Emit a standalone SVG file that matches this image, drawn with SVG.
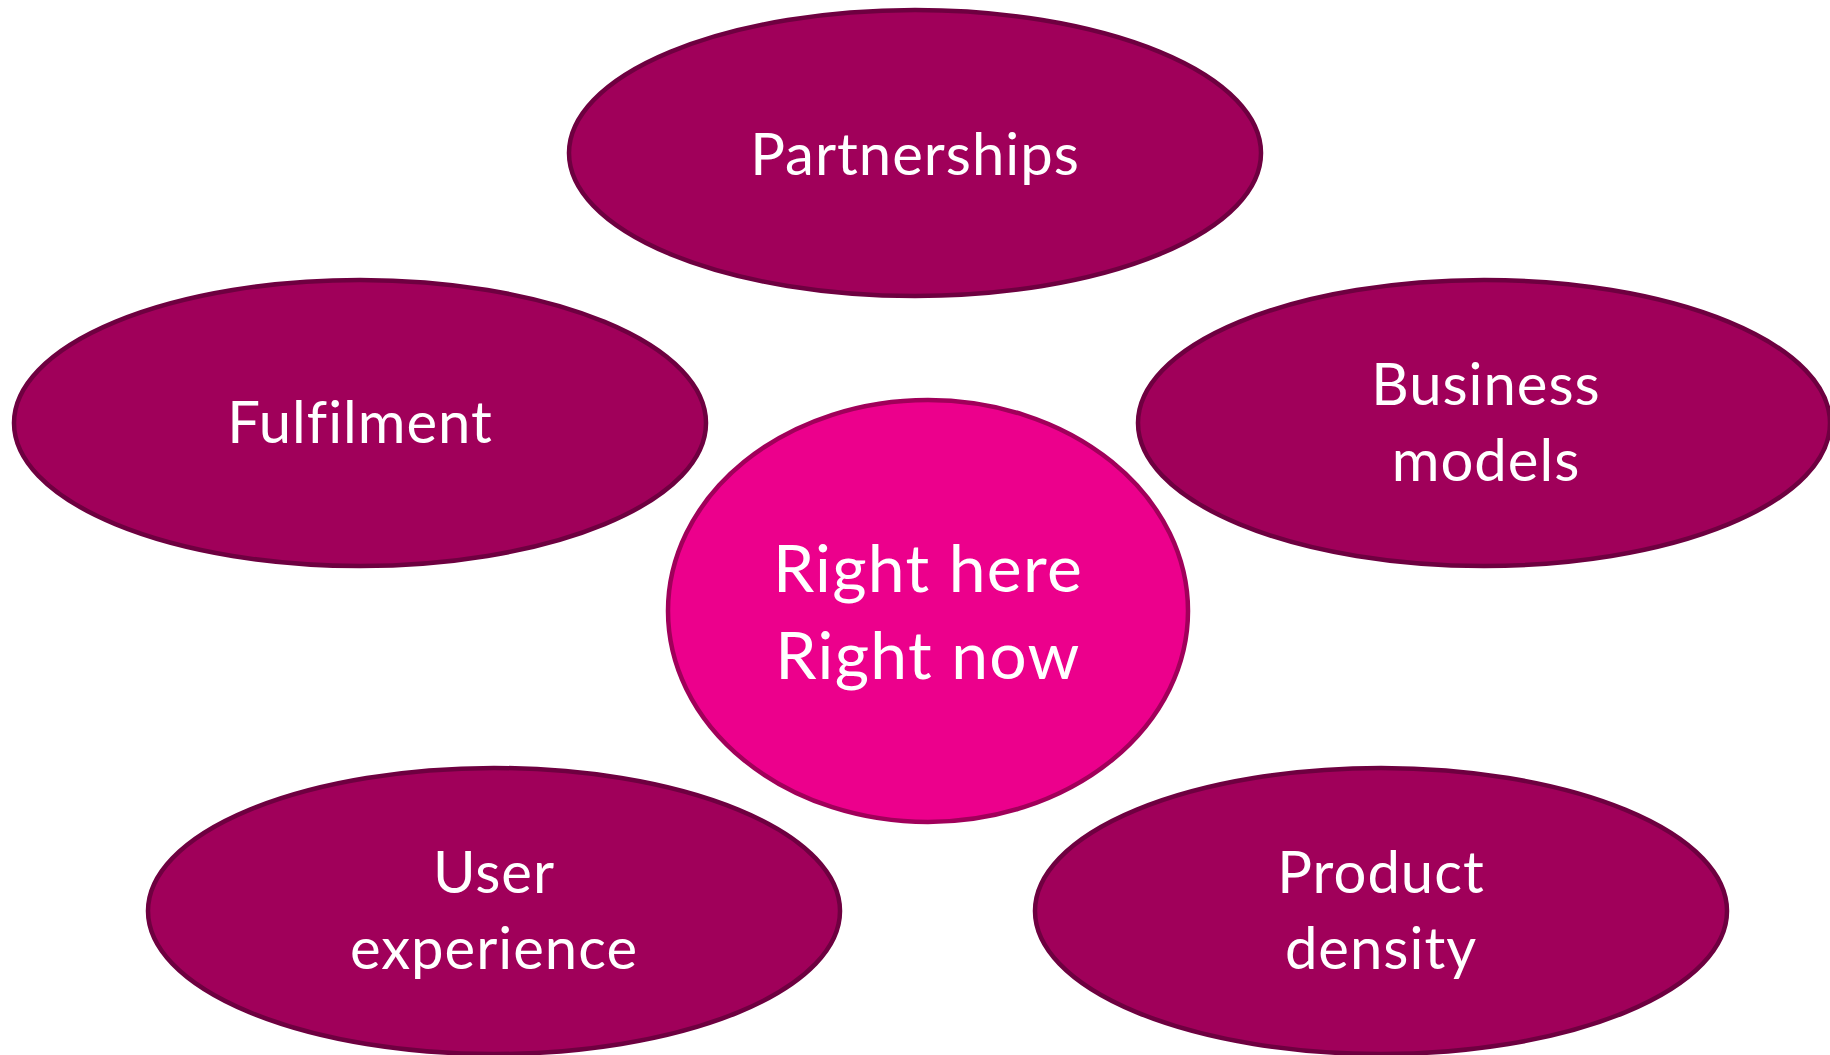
<svg xmlns="http://www.w3.org/2000/svg" width="1830" height="1055" viewBox="0 0 1830 1055">
<style>
.outer{fill:#A0005A;stroke:#6E0040;stroke-width:4.5}
.center{fill:#EC008C;stroke:#A0005A;stroke-width:4.5}
.lbl{font-family:Lato,"Open Sans","Liberation Sans",sans-serif;fill:#FFFFFF;text-anchor:middle;font-size:58px;letter-spacing:1px;font-variant-ligatures:none}
.big{font-size:66px;letter-spacing:1.3px}
</style>
<rect width="1830" height="1055" fill="#FFFFFF"/>
<g id="connectors"/>
<g id="partnerships">
<ellipse class="outer" cx="915" cy="153" rx="346" ry="143"/>
<text class="lbl" x="915" y="175">Partnerships</text>
</g>
<g id="fulfilment">
<ellipse class="outer" cx="360" cy="423" rx="346" ry="143"/>
<text class="lbl" x="360" y="443">Fulfilment</text>
</g>
<g id="business-models">
<ellipse class="outer" cx="1484" cy="423" rx="346" ry="143"/>
<text class="lbl" x="1486" y="405">Business</text>
<text class="lbl" x="1486" y="481">models</text>
</g>
<g id="user-experience">
<ellipse class="outer" cx="494" cy="911" rx="346" ry="143"/>
<text class="lbl" x="494" y="893">User</text>
<text class="lbl" x="494" y="969">experience</text>
</g>
<g id="product-density">
<ellipse class="outer" cx="1381" cy="911" rx="346" ry="143"/>
<text class="lbl" x="1381" y="893">Product</text>
<text class="lbl" x="1381" y="969">density</text>
</g>
<g id="right-here-right-now">
<ellipse class="center" cx="928" cy="611" rx="260" ry="211"/>
<text class="lbl big" x="928" y="592">Right here</text>
<text class="lbl big" x="928" y="679">Right now</text>
</g>
</svg>
